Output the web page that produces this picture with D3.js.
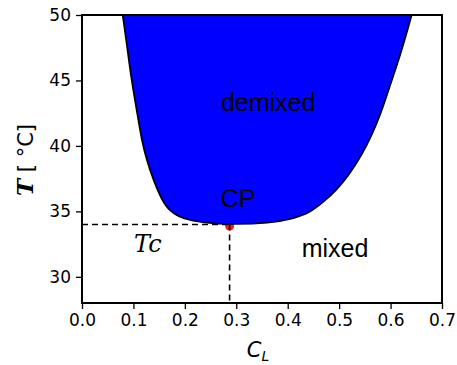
<!DOCTYPE html>
<html><head><meta charset="utf-8">
<script src="https://cdn.jsdelivr.net/npm/d3@7"></script>
<style>body{margin:0;background:#fff}</style>
</head><body><svg id="c" width="457" height="365"></svg>
<script>
const leftC = [0.0792,0.087,0.0953,0.1064,0.116,0.1258,0.1388,0.155,0.171,0.197,0.236,0.287];
const leftT = [50,47.84,45.29,42.75,40.46,38.93,37.40,35.88,34.98,34.40,34.15,34.0];
const rightC = [0.287,0.3658,0.411,0.4436,0.4695,0.4955,0.5214,0.544,0.5636,0.5798,0.5928,0.6057,0.6187,0.630,0.641];
const rightT = [34.0,34.10,34.45,34.92,35.72,36.65,37.92,39.31,40.84,42.37,43.89,45.42,46.95,48.47,50];
const xTicks = [0.0,0.1,0.2,0.3,0.4,0.5,0.6,0.7];
const yTicks = [30,35,40,45,50];
const cp = {C:0.287, T:34.0};

const svg = d3.select("#c");
const m = {l:82, r:442, t:15, b:303};
const x = d3.scaleLinear().domain([0,0.7]).range([m.l,m.r]);
const y = d3.scaleLinear().domain([28,50]).range([m.b,m.t]);

const pts = leftC.map((c,i)=>[c,leftT[i]])
  .concat(rightC.slice(1).map((c,i)=>[c,rightT[i+1]]));
const line = d3.line().x(d=>x(d[0])).y(d=>y(d[1])).curve(d3.curveBasis);

// red CP dot (partly under the fill)
svg.append("circle").attr("cx",x(cp.C)).attr("cy",y(cp.T)+1.5).attr("r",4.5).attr("fill","#e8231a");

svg.append("path").attr("d",line(pts)+"Z").attr("fill","#0000ff").attr("stroke","none");
svg.append("path").attr("d",line(pts)).attr("fill","none").attr("stroke","#000").attr("stroke-width",1.8);

// dashed lines
svg.append("line").attr("x1",x(0)).attr("x2",x(cp.C)).attr("y1",y(cp.T)).attr("y2",y(cp.T))
  .attr("stroke","#000").attr("stroke-width",1.6).attr("stroke-dasharray","6,4");
svg.append("line").attr("x1",x(cp.C)).attr("x2",x(cp.C)).attr("y1",y(cp.T)).attr("y2",y(28))
  .attr("stroke","#000").attr("stroke-width",1.6).attr("stroke-dasharray","6,4");

// frame
svg.append("rect").attr("x",m.l).attr("y",m.t).attr("width",m.r-m.l).attr("height",m.b-m.t)
  .attr("fill","none").attr("stroke","#000").attr("stroke-width",2);

const xa = svg.append("g").attr("transform",`translate(0,${m.b})`)
  .call(d3.axisBottom(x).tickValues(xTicks).tickFormat(d3.format(".1f")).tickSize(6).tickPadding(5));
const ya = svg.append("g").attr("transform",`translate(${m.l},0)`)
  .call(d3.axisLeft(y).tickValues(yTicks).tickFormat(d3.format("d")).tickSize(6).tickPadding(5));
[xa,ya].forEach(a=>{
  a.select(".domain").remove();
  a.selectAll(".tick line").attr("stroke","#000").attr("stroke-width",1.3);
  a.selectAll("text").attr("font-family","DejaVu Sans").attr("font-size",17).attr("fill","#000");
});

const txt = (s,px,py,o)=>svg.append("text").attr("x",px).attr("y",py).text(s)
  .attr("font-family",o.ff||"Liberation Sans").attr("font-size",o.fs||25)
  .attr("font-style",o.it?"italic":"normal").attr("text-anchor","middle").attr("fill","#000");

txt("demixed",x(0.362),y(42.7),{});
txt("CP",x(0.303),y(35.3),{});
txt("mixed",x(0.492),y(31.5),{});
txt("Tc",x(0.128),y(31.9),{fs:24,it:true,ff:"DejaVu Serif"});

// x label C_L
const xl = svg.append("text").attr("x",258).attr("y",357).attr("text-anchor","middle")
  .attr("font-family","DejaVu Sans").attr("font-style","italic").attr("font-size",21).attr("fill","#000");
xl.append("tspan").text("C");
xl.append("tspan").text("L").attr("font-size",14).attr("dy",4);

// y label
const yl = svg.append("text").attr("transform","translate(33,160) rotate(-90)").attr("text-anchor","middle")
  .attr("font-size",21).attr("fill","#000");
yl.append("tspan").text("T").attr("font-family","DejaVu Serif").attr("font-style","italic").attr("font-weight","bold").attr("font-size",23);
yl.append("tspan").text(" [ \u00B0C]").attr("font-family","DejaVu Sans");
</script></body></html>
